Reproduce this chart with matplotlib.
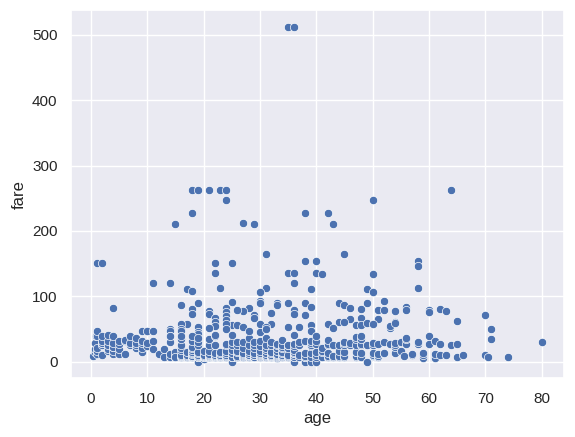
import matplotlib
matplotlib.use("Agg")
import matplotlib.pyplot as plt
import seaborn as sns

# (age, fare) pairs, grouped by band
high = [(35, 512.3), (36, 512.3), (18, 263), (19, 263), (21, 263), (23, 263), (24, 263), (64, 263),
        (24, 247.5), (50, 247.5), (18, 227.5), (38, 227.5), (42, 227.5), (15, 211.3), (27, 211.5),
        (29, 211.3), (43, 211.3), (31, 164.9), (45, 164.9)]

mid = [(1, 151.6), (2, 151.6), (22, 151.6), (25, 151.6), (38, 153.5), (40, 153.5), (58, 153.5),
       (58, 146.5), (22, 135.6), (35, 135.6), (36, 135.6), (40, 135.6), (41, 134.5), (50, 133.7),
       (11, 120), (14, 120), (36, 120), (4, 81.9), (17, 110.9), (18, 108.9), (23, 113.3), (31, 113.3),
       (30, 106.4), (30, 93.5), (30, 89.1), (39, 110.9), (58, 113.3), (49, 110.9), (50, 106.4),
       (52, 93.5), (28, 82.2), (27, 77.9), (29, 71), (33, 90), (33, 86.5), (32, 75.2), (35, 90),
       (36, 79.2), (36, 73.5), (38, 90), (38, 71.3), (39, 83.2), (16, 86.5), (18, 80.5), (18, 73.5),
       (19, 90), (21, 77.9), (21, 73.5), (22, 66.6), (22, 61.2), (24, 82.3), (24, 76.7), (24, 69.3),
       (24, 63.4), (25, 91.1), (26, 78.9), (44, 90), (45, 86.5), (46, 82.2), (48, 80), (49, 89.1),
       (51, 79.6), (52, 79.7), (54, 78.3), (46, 65), (48, 67), (44, 61.2), (51, 65), (54, 61.2),
       (56, 83.2), (60, 79.2), (60, 75.3), (62, 80), (63, 77.9), (65, 61.9), (70, 71), (54, 77.3),
       (56, 79.7), (17, 57), (16, 57), (30, 57), (32, 57), (31, 53), (35, 53.1), (37, 53.1),
       (39, 55.9), (47, 56.9), (48, 55.9), (49, 59.4), (50, 57.8), (53, 51.5), (42, 57), (43, 52),
       (19, 53.1), (22, 55), (25, 55.4), (21, 52), (24, 57), (45, 61), (53, 55), (54, 59),
       (16, 50), (16, 46.5), (14, 50), (14, 47), (14, 39), (19, 46), (19, 43)]

kids = [(0.4, 8.5), (0.7, 14.5), (0.8, 19.3), (0.8, 29.0), (0.9, 39.0), (1, 11.1), (1, 15.7),
        (1, 20.6), (1, 39.7), (1, 46.9), (2, 10.5), (2, 26.0), (2, 27.9), (2, 29.1), (2, 31.3),
        (2, 39.7), (3, 15.9), (3, 18.75), (3, 26.0), (3, 31.4), (3, 41.6), (4, 11.1), (4, 16.7),
        (4, 22.0), (4, 23.0), (4, 29.1), (4, 39.0), (5, 12.5), (5, 19.3), (5, 27.8), (5, 31.4),
        (6, 12.5), (6, 31.3), (6, 33.0), (7, 26.3), (7, 29.1), (7, 39.7), (8, 21.1), (8, 26.3),
        (8, 29.1), (8, 36.75), (9, 15.2), (9, 20.5), (9, 27.9), (9, 31.4), (9, 46.9), (10, 24.1),
        (10, 27.9), (10, 46.9), (11, 18.8), (11, 31.3), (11, 46.9), (12, 11.2), (13, 7.2),
        (13, 19.5), (14, 7.9), (14, 11.2), (14, 30.1), (14, 39.7)]

teens = [(15, 7.2), (15, 8.0), (15, 14.5), (15, 7.7), (16, 7.7), (16, 8.05), (16, 9.2), (16, 10.5),
         (16, 18.0), (16, 20.25), (16, 26.0), (16, 34.4), (16, 39.7), (17, 7.1), (17, 7.9),
         (17, 8.7), (17, 10.5), (17, 14.5), (18, 6.5), (18, 7.8), (18, 7.9), (18, 8.05), (18, 9.35),
         (18, 11.5), (18, 13.0), (18, 14.5), (18, 17.8), (18, 20.2), (18, 23.0), (18, 31.3),
         (18, 39.7), (19, 0.0), (19, 6.75), (19, 7.65), (19, 7.9), (19, 8.05), (19, 10.2),
         (19, 13.0), (19, 14.4), (19, 26.0), (19, 30.0), (19, 36.75), (20, 4.0), (20, 7.05),
         (20, 7.25), (20, 7.85), (20, 8.05), (20, 9.2), (20, 9.8), (20, 15.7)]

twenties = [(21, 7.25), (21, 7.73), (21, 7.8), (21, 8.05), (21, 8.43), (21, 10.5), (21, 11.5),
            (21, 16.1), (21, 26.0), (21, 34.4), (22, 7.12), (22, 7.25), (22, 7.52), (22, 7.8),
            (22, 8.05), (22, 9.0), (22, 10.5), (22, 13.0), (22, 26.0), (22, 39.7), (22, 41.6),
            (23, 7.55), (23, 7.85), (23, 8.05), (23, 9.2), (23, 10.5), (23, 13.8), (23, 15.05),
            (24, 7.05), (24, 7.5), (24, 7.8), (24, 8.05), (24, 9.5), (24, 13.0), (24, 16.7),
            (24, 26.0), (24, 27.7), (24, 49.5), (25, 0.0), (25, 7.05), (25, 7.25), (25, 7.65),
            (25, 7.8), (25, 13.0), (25, 17.8), (25, 26.0), (25, 30.0), (25, 41.6), (26, 7.75),
            (26, 7.9), (26, 8.05), (26, 14.45), (26, 16.1), (26, 26.0), (26, 30.0), (26, 56.5),
            (27, 6.9), (27, 7.8), (27, 8.66), (27, 10.5), (27, 11.1), (27, 13.0), (27, 21.0),
            (27, 30.5), (27, 53.1), (28, 7.25), (28, 7.9), (28, 8.05), (28, 9.5), (28, 10.5),
            (28, 13.0), (28, 15.85), (28, 26.0), (28, 35.5), (28, 47.1), (29, 7.05), (29, 7.75),
            (29, 7.9), (29, 9.5), (29, 10.5), (29, 13.0), (29, 21.0), (29, 26.0), (29, 30.0),
            (29, 66.6)]

thirties = [(30, 7.2), (30, 7.75), (30, 8.05), (30, 9.5), (30, 12.35), (30, 13.0), (30, 16.1),
            (30, 24.15), (30, 31.0), (30, 45.5), (31, 7.75), (31, 7.85), (31, 8.05), (31, 10.5),
            (31, 13.0), (31, 18.0), (31, 20.5), (31, 26.25), (31, 37.0), (31, 50.5), (32, 7.75),
            (32, 7.85), (32, 7.93), (32, 8.05), (32, 8.36), (32, 10.5), (32, 13.0), (32, 15.5),
            (32, 26.0), (32, 30.5), (33, 5.0), (33, 7.9), (33, 8.65), (33, 9.5), (33, 12.3),
            (33, 15.85), (33, 20.5), (33, 26.0), (33, 27.7), (34, 6.5), (34, 8.05), (34, 10.5),
            (34, 13.0), (34, 14.4), (34, 21.0), (34, 23.0), (34, 26.0), (34, 32.5), (35, 7.05),
            (35, 7.9), (35, 8.05), (35, 10.5), (35, 20.25), (35, 26.0), (35, 26.3), (36, 0.0),
            (36, 7.25), (36, 7.9), (36, 10.5), (36, 12.9), (36, 13.0), (36, 15.55), (36, 17.4),
            (36, 24.15), (36, 26.4), (36, 40.1), (37, 7.9), (37, 9.6), (37, 26.0), (37, 29.7),
            (38, 0.0), (38, 7.05), (38, 7.9), (38, 8.66), (38, 13.0), (38, 31.4), (39, 0.0),
            (39, 7.9), (39, 13.0), (39, 24.15), (39, 26.0), (39, 29.1), (39, 31.3), (39, 46.9)]

forties = [(40, 0.0), (40, 7.2), (40, 9.5), (40, 15.5), (40, 27.7), (40, 31.0), (40, 39.0),
           (41, 7.85), (41, 14.1), (41, 15.85), (41, 20.2), (42, 7.55), (42, 7.65), (42, 8.66),
           (42, 13.0), (42, 26.0), (42, 26.55), (42, 32.5), (43, 6.45), (43, 8.05), (43, 26.25),
           (44, 7.9), (44, 8.05), (44, 16.1), (44, 26.0), (45, 7.75), (45, 8.05), (45, 14.45),
           (45, 26.25), (45, 27.9), (45, 30.0), (46, 26.0), (46, 28.5), (47, 7.25), (47, 9.0),
           (47, 14.5), (47, 15.0), (47, 25.6), (47, 34.0), (47, 38.5), (48, 7.85), (48, 13.0),
           (48, 25.9), (48, 26.55), (48, 34.4), (48, 39.6), (49, 0.0), (49, 25.9), (49, 26.0)]

older = [(50, 8.05), (50, 10.5), (50, 13.0), (50, 26.0), (50, 28.7), (51, 7.05), (51, 8.05),
         (51, 12.5), (51, 26.55), (52, 13.0), (52, 13.5), (52, 30.5), (53, 27.4), (54, 14.0),
         (54, 23.0), (54, 26.0), (54, 28.0), (55, 16.0), (55, 30.5), (55.5, 8.05), (56, 26.55),
         (56, 34.7), (56, 35.5), (57, 10.5), (57, 12.35), (58, 26.55), (58, 29.7), (59, 6.3),
         (59, 10.5), (59, 13.5), (60, 26.55), (60, 38.6), (61, 6.24), (61, 12.35), (61, 32.3),
         (62, 10.5), (62, 26.55), (63, 9.6), (64, 26.0), (65, 7.75), (65, 26.55), (66, 10.5),
         (70, 10.5), (70.5, 7.75), (71, 34.65), (71, 49.5), (74, 7.78), (80, 30.0)]

points = high + mid + kids + teens + twenties + thirties + forties + older
age = [p[0] for p in points]
fare = [p[1] for p in points]

sns.set_theme()
plt.rcParams['font.family'] = ['Liberation Sans', 'DejaVu Sans']
fig, ax = plt.subplots(figsize=(5.75, 4.37), dpi=100)
sns.scatterplot(x=age, y=fare, ax=ax)
ax.set_xlabel("age")
ax.set_ylabel("fare")
fig.subplots_adjust(left=0.123, right=0.981, top=0.977, bottom=0.134)
fig.savefig("out.png")
